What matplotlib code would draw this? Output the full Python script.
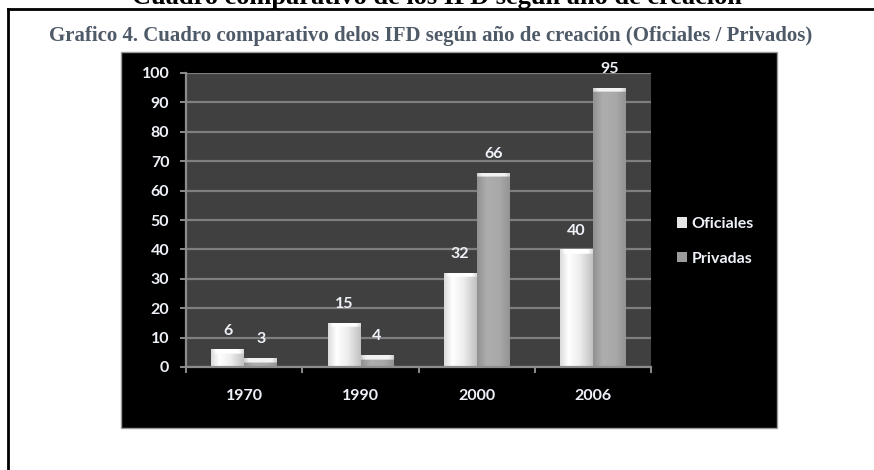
import numpy as np
import matplotlib
matplotlib.use("Agg")
import matplotlib.pyplot as plt
from matplotlib.patches import Rectangle
from matplotlib.lines import Line2D

# data
years = ["1970", "1990", "2000", "2006"]
oficiales = [6, 15, 32, 40]
privadas = [3, 4, 66, 95]
series_names = ["Oficiales", "Privadas"]
y_ticks = list(range(0, 101, 10))

main_title = "Cuadro comparativo de los IFD según año de creación"
sub_title = "Grafico 4. Cuadro comparativo delos IFD según año de creación (Oficiales / Privados)"

W, H = 874, 470
fig = plt.figure(figsize=(W / 100, H / 100), dpi=100)
fig.patch.set_facecolor("white")


def px_box(x0, y0, x1, y1):
    # pixel box (top-left origin) -> figure fraction [l, b, w, h]
    return [x0 / W, 1 - y1 / H, (x1 - x0) / W, (y1 - y0) / H]


# page frame (left and top edges only visible)
fig.add_artist(Line2D([8 / W, 8 / W], [0, 1 - 9 / H], color="black", lw=2,
                      transform=fig.transFigure))
fig.add_artist(Line2D([8 / W, 1], [1 - 9 / H, 1 - 9 / H], color="black", lw=2,
                      transform=fig.transFigure))

# document title, cut off at the top as in the source
fig.text(437 / W, 1 - 4 / H, main_title, ha="center", va="baseline",
         fontsize=19, fontweight="bold", family="Liberation Serif", color="black")

# chart subtitle
fig.text(431 / W, 1 - 36 / H, sub_title, ha="center", va="center",
         fontsize=15, fontweight="bold", family="Liberation Serif", color="#4f5a68")

# black chart background
l, b, w, h = px_box(121, 52, 777, 428)
fig.add_artist(Rectangle((l, b), w, h, transform=fig.transFigure,
                         facecolor="black", edgecolor="#9a9a9a", lw=1, zorder=-1))

ax = fig.add_axes(px_box(186, 73, 651, 367))
ax.set_facecolor("#404040")
for s in ax.spines.values():
    s.set_visible(False)

x = np.arange(len(years))
bw = 0.28
off = 0.142

ax.set_axisbelow(True)
ax.yaxis.grid(True, color="#7f7f7f", lw=1.6)
b1 = ax.bar(x - off, oficiales, bw, color="#eeeeee", label=series_names[0], zorder=2)
b2 = ax.bar(x + off, privadas, bw, color="#a4a4a4", label=series_names[1], zorder=2)

ax.set_xlim(-0.5, len(years) - 0.5)
ax.set_ylim(0, 100)

px_per_unit = 294 / 100.0


def shade(bar, xs, cols, cap):
    x0, y0 = bar.get_x(), bar.get_y()
    bwid, bh = bar.get_width(), bar.get_height()
    n = 60
    rows = 300
    t = np.linspace(0, 1, n)
    prof = np.array([np.interp(t, xs, [c[k] for c in cols]) for k in range(3)]).T
    img = np.tile(prof[None, :, :], (rows, 1, 1))
    yy = np.linspace(0, bh, rows)
    cap_units = 4.5 / px_per_unit
    capmask = yy > bh - cap_units
    capcol = np.array([np.interp(t, [0, 0.15, 0.85, 1],
                                 [cap * 0.85, cap, cap, cap * 0.85])] * 3).T
    img[capmask] = capcol
    im = ax.imshow(img, extent=[x0, x0 + bwid, y0, y0 + bh], origin="lower",
                   aspect="auto", zorder=2.5, interpolation="bilinear")
    im.set_clip_path(bar)


for bar in b1:
    shade(bar, [0, 0.25, 0.6, 1],
          [(0.86, 0.86, 0.86), (1, 1, 1), (0.93, 0.93, 0.93), (0.76, 0.76, 0.76)],
          1.0)
for bar in b2:
    shade(bar, [0, 0.3, 0.7, 1],
          [(0.57, 0.57, 0.57), (0.68, 0.68, 0.68), (0.66, 0.66, 0.66), (0.58, 0.58, 0.58)],
          0.95)

ax.set_xlim(-0.5, len(years) - 0.5)
ax.set_ylim(0, 100)

txt_col = "#eef2f8"
fsz = 11.5
for bars, vals in ((b1, oficiales), (b2, privadas)):
    for bar, v in zip(bars, vals):
        ax.annotate(str(v), (bar.get_x() + bar.get_width() / 2, v),
                    xytext=(0, 13.5), textcoords="offset points",
                    ha="center", va="center", fontsize=fsz, fontweight="bold",
                    family="Lato", color=txt_col, zorder=4)

# axis lines drawn in gray
ax.axhline(0, color="#8c8c8c", lw=1.6, zorder=3, clip_on=False)
ax.axvline(-0.5, color="#8c8c8c", lw=1.6, zorder=3, clip_on=False)

ax.set_yticks(y_ticks)
ax.set_yticklabels([str(v) for v in y_ticks])
ax.tick_params(axis="y", length=4, width=1.4, color="#8c8c8c", pad=8,
               labelsize=fsz, labelcolor=txt_col)
ax.set_xticks(np.arange(-0.5, len(years), 1.0))
ax.set_xticklabels([])
ax.set_xticks(x, minor=True)
ax.set_xticklabels(years, minor=True)
ax.tick_params(axis="x", which="major", length=4.5, width=1.4, color="#8c8c8c", direction="out")
ax.tick_params(axis="x", which="minor", length=0, pad=16, labelsize=fsz, labelcolor=txt_col)
for lab in ax.get_xticklabels(minor=True) + ax.get_yticklabels():
    lab.set_fontweight("bold")
    lab.set_family("Lato")

leg = fig.legend(handles=[b1, b2], labels=series_names, loc="upper left",
                 bbox_to_anchor=(677 / W, 1 - 217 / H), frameon=False,
                 borderpad=0, borderaxespad=0, handlelength=0.65, handleheight=0.65,
                 handletextpad=0.25, labelspacing=1.3,
                 prop={"family": "Lato", "weight": "bold", "size": fsz})
for t in leg.get_texts():
    t.set_color(txt_col)
leg.legend_handles[0].set_facecolor("#e6e6e6")
leg.legend_handles[1].set_facecolor("#9c9c9c")

fig.savefig("out.png", dpi=100, facecolor="white")
